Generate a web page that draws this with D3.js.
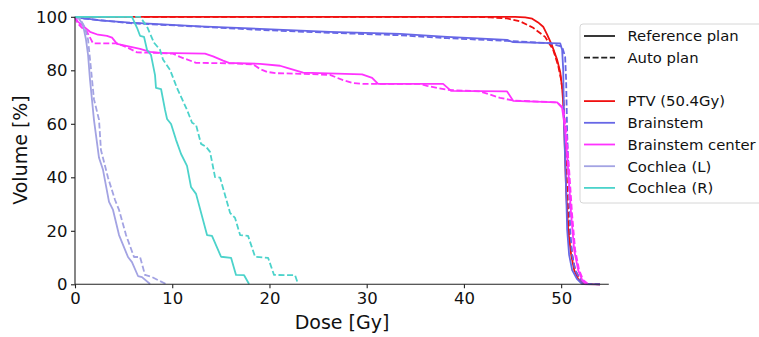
<!DOCTYPE html>
<html><head><meta charset="utf-8">
<script src="https://cdn.jsdelivr.net/npm/d3@7"></script>
<style>html,body{margin:0;padding:0;background:#fff;}svg{display:block;font-family:"DejaVu Sans",sans-serif;}</style>
</head><body>
<svg id="chart" width="759" height="337"></svg>
<script>
// ---- data: [dose Gy, volume %] ----
const xTicks = [0, 10, 20, 30, 40, 50];
const yTicks = [0, 20, 40, 60, 80, 100];
const structures = ["PTV (50.4Gy)", "Brainstem", "Brainstem center", "Cochlea (L)", "Cochlea (R)"];
const colors = ["#f01010", "#6767e6", "#ff33ff", "#a3a3e3", "#4cd3cb"];
const planNames = ["Reference plan", "Auto plan"];

const ptvRef = [[0,100],[45.27,100],[46.30,99.8],[47.02,99.3],[47.63,97.9],[48.15,96.3],[48.56,93.3],[49.07,89.2],[49.59,83.9],[49.90,79.4],[50.10,73.4],[50.21,67.9],[50.31,59.6],[50.51,35.3],[50.72,20.3],[51.03,11.0],[51.34,5.3],[51.75,1.9],[52.26,0.1],[54.0,0]];
const ptvAuto = [[0,100],[40.64,100],[42.70,99.8],[44.44,99.4],[45.78,98.3],[47.12,95.9],[48.35,92.5],[49.18,87.7],[49.69,81.8],[50.0,76.4],[50.21,70.8],[50.41,56.2],[50.62,35.3],[50.82,20.3],[51.13,11.0],[51.44,5.3],[51.95,1.9],[52.47,0.1],[54.0,0]];

const bsRef = [[0,100],[0.31,99.6],[1.23,99.3],[2.57,98.7],[5.66,97.8],[12.86,96.4],[19.03,95.5],[26.23,94.4],[33.44,93.6],[38.27,92.5],[44.44,91.4],[45.06,90.5],[49.90,90.1],[50.10,87.7],[50.21,80.3],[50.31,57.7],[50.51,35.3],[50.62,20.3],[50.82,11.0],[51.13,5.3],[51.65,1.9],[52.16,0.1],[54.0,0]];
const bsAuto = [[0,100],[0.51,99.4],[1.54,99.1],[5.66,97.6],[12.86,96.3],[19.03,95.1],[26.23,94.0],[33.44,93.1],[38.27,92.0],[44.44,91.0],[48.87,90.1],[50.10,88.8],[50.41,85.0],[50.51,76.4],[50.62,56.2],[50.82,35.3],[50.93,20.3],[51.13,11.0],[51.44,5.3],[51.95,1.9],[52.47,0.1],[54.0,0]];

const bscRef = [[0,100],[0.31,98.1],[0.82,96.6],[1.54,94.4],[2.37,93.3],[3.29,92.9],[3.81,92.2],[4.32,89.9],[5.14,89.2],[6.69,88.0],[7.72,86.9],[8.74,86.5],[13.37,86.2],[14.20,85.2],[15.23,83.6],[15.84,82.8],[19.03,82.4],[21.09,81.7],[21.81,80.9],[23.46,79.1],[29.53,78.5],[30.56,77.2],[31.17,74.9],[37.86,74.9],[38.68,72.3],[44.44,72.1],[45.06,68.6],[49.59,68.0],[50.10,65.9],[50.41,57.7],[50.72,42.8],[51.03,25.9],[51.34,12.8],[51.75,5.3],[52.16,1.6],[52.57,0.1]];
const bscAuto = [[0,100],[0.21,97.8],[0.72,95.9],[1.23,94.4],[1.85,90.1],[4.32,90.1],[5.35,88.6],[6.38,86.7],[8.74,86.5],[10.08,86.2],[10.80,85.0],[12.45,82.8],[16.26,82.6],[18.31,82.2],[19.03,80.5],[19.75,79.4],[20.78,78.9],[23.15,78.7],[26.23,78.3],[27.57,76.3],[28.60,75.2],[29.63,74.9],[35.49,74.9],[36.21,74.2],[38.27,72.7],[41.67,72.1],[43.72,69.7],[45.06,68.7],[49.59,68.0],[50.21,65.9],[50.51,57.7],[50.82,42.8],[51.13,25.9],[51.44,12.8],[51.85,5.3],[52.26,1.6],[52.78,0.1]];

const cochLRef = [[0,100],[0.41,99.3],[0.82,97.0],[1.13,91.5],[1.34,85.9],[1.54,76.6],[1.95,61.5],[2.47,47.3],[2.88,42.8],[3.50,30.8],[3.91,27.8],[4.53,18.4],[5.45,10.2],[5.86,8.3],[6.48,3.1],[6.89,2.7],[7.72,0.1]];
const cochLAuto = [[0,100],[0.51,99.3],[1.03,95.9],[1.34,91.5],[1.65,80.3],[1.95,69.2],[2.47,61.5],[2.67,50.2],[3.40,39.8],[4.12,31.5],[4.53,27.8],[5.25,18.4],[6.07,10.2],[6.69,10.2],[7.20,3.5],[7.92,2.7],[9.36,0.1]];

const cochRRef = [[0,100],[5.86,100],[6.38,95.9],[6.69,92.9],[7.10,92.5],[7.41,87.6],[7.82,85.7],[8.23,78.2],[8.33,73.4],[8.85,73.0],[9.26,65.2],[9.47,61.8],[9.88,59.9],[10.39,54.0],[10.91,48.7],[11.52,44.3],[11.93,36.4],[12.45,33.8],[13.58,18.4],[14.09,18.1],[15.02,10.3],[16.05,9.9],[16.56,3.5],[17.39,3.4],[17.90,0.1]];
const cochRAuto = [[0,100],[6.69,100],[7.41,96.3],[8.13,90.3],[8.74,87.7],[9.05,84.0],[9.77,80.2],[10.49,73.4],[11.52,65.2],[12.04,60.4],[12.45,59.6],[12.96,52.5],[13.48,51.4],[13.89,49.5],[14.40,40.1],[14.92,39.9],[15.95,26.7],[16.46,24.8],[16.98,18.4],[17.80,18.1],[18.52,10.3],[19.86,9.9],[20.47,3.5],[22.63,3.4],[22.94,0.1]];

const refSeries = [ptvRef, bsRef, bscRef, cochLRef, cochRRef];
const autoSeries = [ptvAuto, bsAuto, bscAuto, cochLAuto, cochRAuto];

// ---- layout ----
const svg = d3.select("#chart");
const x = d3.scaleLinear().domain([0, 54.9]).range([75, 608.8]);
const y = d3.scaleLinear().domain([0, 100]).range([284.3, 16.8]);
const line = d3.line().x(d => x(d[0])).y(d => y(d[1]));
const LW = 1.8, DASH = "6,2.6";

const plot = svg.append("g");
structures.forEach((s, i) => {
  plot.append("path").datum(refSeries[i]).attr("d", line)
    .attr("fill", "none").attr("stroke", colors[i]).attr("stroke-width", LW)
    .attr("stroke-linejoin", "round");
  plot.append("path").datum(autoSeries[i]).attr("d", line)
    .attr("fill", "none").attr("stroke", colors[i]).attr("stroke-width", LW)
    .attr("stroke-dasharray", DASH).attr("stroke-linejoin", "round");
});

// axes
const xAxis = svg.append("g").attr("transform", "translate(0,284.3)")
  .call(d3.axisBottom(x).tickValues(xTicks).tickSize(4).tickPadding(4).tickFormat(d3.format("d")));
const yAxis = svg.append("g").attr("transform", "translate(75,0)")
  .call(d3.axisLeft(y).tickValues(yTicks).tickSize(4).tickPadding(3.5).tickFormat(d3.format("d")));
[xAxis, yAxis].forEach(a => {
  a.select(".domain").attr("stroke", "#222").attr("stroke-width", 1.1);
  a.selectAll(".tick line").attr("stroke", "#222").attr("stroke-width", 1.1);
  a.selectAll(".tick text").attr("font-size", 16.5).attr("fill", "#111")
    .attr("font-family", "DejaVu Sans");
});
xAxis.select(".domain").attr("d", "M75,0H608.8");
yAxis.select(".domain").attr("d", "M0,284.3V16.8");

svg.append("text").attr("x", 342).attr("y", 329).attr("text-anchor", "middle")
  .attr("font-size", 19).attr("fill", "#111").text("Dose [Gy]");
svg.append("text").attr("transform", "translate(27,150) rotate(-90)").attr("text-anchor", "middle")
  .attr("font-size", 19).attr("fill", "#111").text("Volume [%]");

// legend
const lg = svg.append("g");
lg.append("rect").attr("x", 580).attr("y", 24).attr("width", 190).attr("height", 179)
  .attr("rx", 3).attr("fill", "#fff").attr("fill-opacity", 0.8)
  .attr("stroke", "#d6d6d6").attr("stroke-width", 1);
const legendItems = [
  {label: planNames[0], color: "#222", dash: null},
  {label: planNames[1], color: "#222", dash: DASH},
  {label: "", color: null, dash: null},
  ...structures.map((s, i) => ({label: s, color: colors[i], dash: null}))
];
legendItems.forEach((it, i) => {
  const yy = 36 + i * 21.7;
  if (it.color) {
    lg.append("line").attr("x1", 584).attr("x2", 615).attr("y1", yy).attr("y2", yy)
      .attr("stroke", it.color).attr("stroke-width", LW)
      .attr("stroke-dasharray", it.dash);
  }
  if (it.label) {
    lg.append("text").attr("x", 627.5).attr("y", yy).attr("dy", "0.36em")
      .attr("font-size", 14.8).attr("fill", "#111").text(it.label);
  }
});
</script>
</body></html>
